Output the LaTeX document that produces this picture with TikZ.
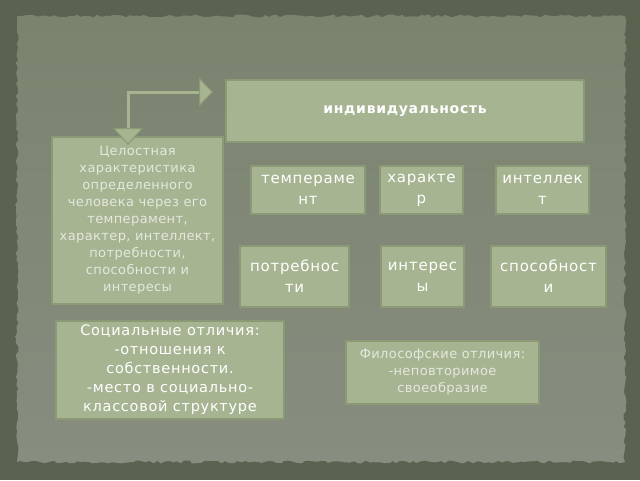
\documentclass[tikz,border=0pt]{standalone}
\usepackage{fontspec}
\setmainfont{DejaVu Sans}
\usetikzlibrary{arrows.meta,decorations.pathmorphing}
\definecolor{board}{HTML}{59634F}
\definecolor{paper}{HTML}{7B836F}
\definecolor{paperlow}{HTML}{878D7F}
\definecolor{boxfill}{HTML}{A7B491}
\definecolor{boxedge}{HTML}{8B9A74}
\definecolor{softtext}{HTML}{E4E8DE}
\begin{document}
\begin{tikzpicture}[x=1pt, y=-1pt,
    box/.style={draw=boxedge, line width=1.5pt, fill=boxfill, inner sep=0pt, align=center, text=white},
    word/.style={box, font={\fontsize{15}{21}\selectfont\addfontfeature{LetterSpace=5}}},
    thin/.style={box, text=softtext, font={\fontsize{13}{17}\selectfont\addfontfeature{LetterSpace=3}}},
    link/.style={boxfill, line width=3pt,
        {Triangle[length=17pt, width=30pt, fill=boxfill, color=boxedge, line width=1pt]}-{Triangle[length=14pt, width=29pt, fill=boxfill, color=boxedge, line width=1pt]}}]
    \useasboundingbox (0,0) rectangle (640,480);
    % board and paper
    \fill[board] (0,0) rectangle (640,480);
    \shade[top color=paper, bottom color=paperlow, decorate,
        decoration={random steps, segment length=4pt, amplitude=1.5pt}] (17,16) rectangle (625,462);

    % top box
    \node[box, minimum width=358, minimum height=62,
        font={\fontsize{14}{20}\selectfont\bfseries\addfontfeature{LetterSpace=5}}] (indiv) at (405,111) {индивидуальность};

    % description
    \node[thin, minimum width=171, minimum height=167] (desc) at (137.5,220.5)
        {Целостная\\характеристика\\определенного\\человека через его\\темперамент,\\характер, интеллект,\\потребности,\\способности и\\интересы};

    % traits
    \node[word, minimum width=114, minimum height=48] (temper) at (308,190) {темпераме\\нт};
    \node[word, minimum width=83, minimum height=48] (charac) at (421.5,190) {характе\\р};
    \node[word, minimum width=93, minimum height=48] (intel) at (542.5,190) {интеллек\\т};
    \node[word, minimum width=109, minimum height=61] (needs) at (294.5,276.5) {потребнос\\ти};
    \node[word, minimum width=83, minimum height=61] (inter) at (422.5,276.5) {интерес\\ы};
    \node[word, minimum width=115, minimum height=61] (abil) at (548.5,276.5) {способност\\и};

    % differences
    \node[box, minimum width=228, minimum height=98,
        font={\fontsize{14.5}{19}\selectfont\addfontfeature{LetterSpace=5}}] (social) at (170,370)
        {Социальные отличия:\\-отношения к\\собственности.\\-место в социально-\\классовой структуре};
    \node[thin, minimum width=193, minimum height=63] (philo) at (442.5,372.5)
        {Философские отличия:\\-неповторимое\\своеобразие};

    % bent arrow
    \coordinate (downtip) at (128,145);
    \coordinate (righttip) at (213,92);
    \draw[link] (downtip) |- (righttip);
\end{tikzpicture}
\end{document}
